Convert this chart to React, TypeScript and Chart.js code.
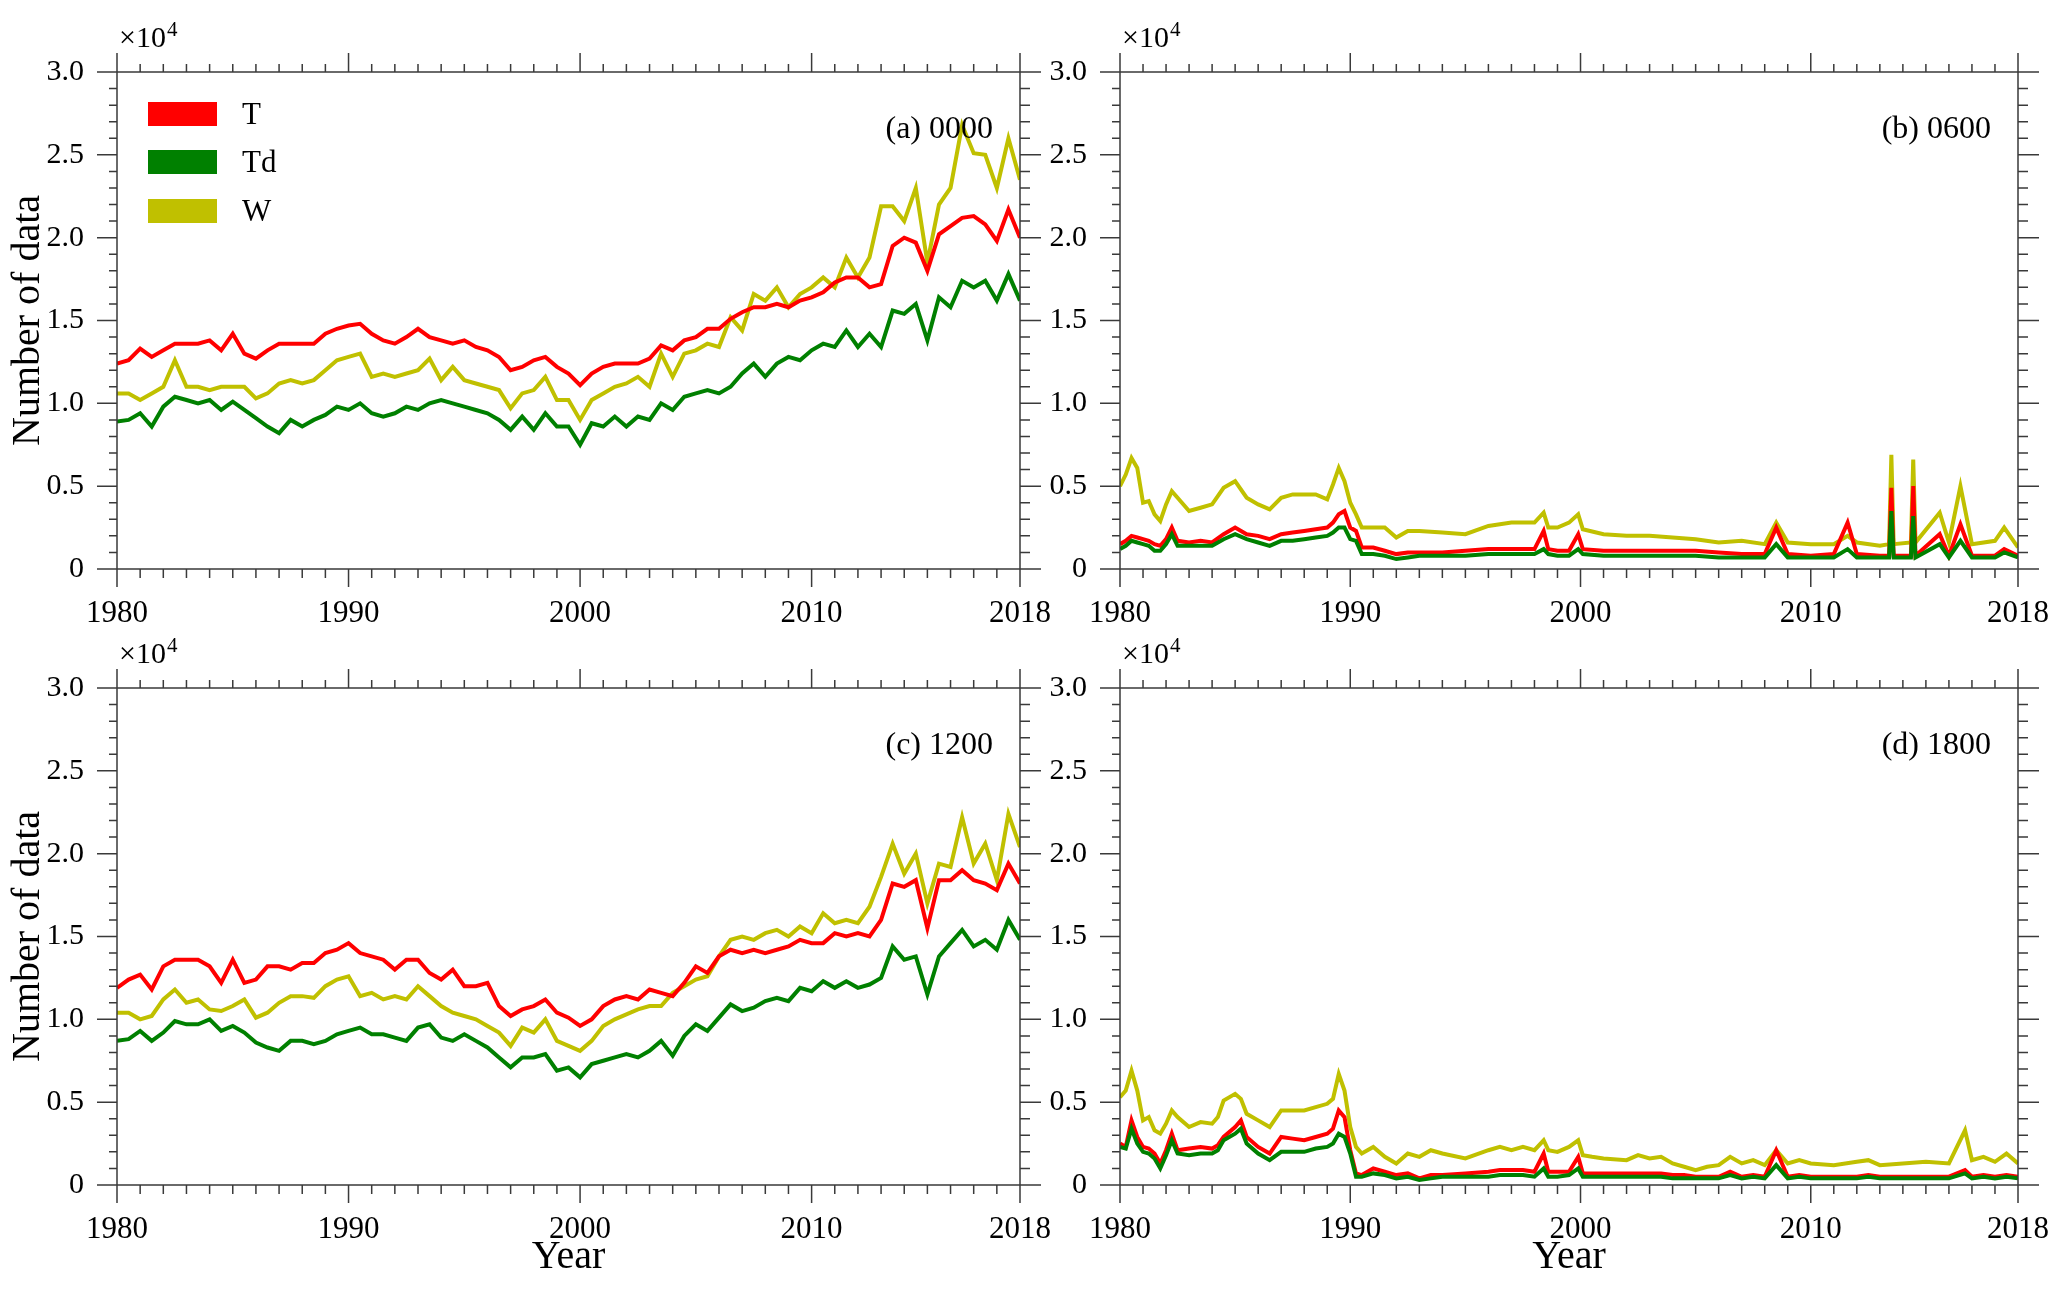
import { useEffect, useRef } from "react"
import { Chart, registerables } from "chart.js"

Chart.register(...registerables)

const FONT = "'Liberation Serif', 'Times New Roman', serif"
const AXIS_COLOR = "#3a3a3a"
const COLOR_T = "#ff0000"
const COLOR_TD = "#008000"
const COLOR_W = "#c0c000"

// x axis: the last tick sits at the end of 2018 and is labelled "2018"
const X_TICKS = [1980, 1990, 2000, 2010, 2019]
const X_TICK_LABELS = ["1980", "1990", "2000", "2010", "2018"]
const Y_TICKS = [0, 0.5, 1, 1.5, 2, 2.5, 3]
const Y_TICK_LABELS = ["0", "0.5", "1.0", "1.5", "2.0", "2.5", "3.0"]

// values are in units of 10^4
const HALF_YEARS = [
  1980, 1980.5, 1981, 1981.5, 1982, 1982.5, 1983, 1983.5, 1984, 1984.5,
  1985, 1985.5, 1986, 1986.5, 1987, 1987.5, 1988, 1988.5, 1989, 1989.5,
  1990, 1990.5, 1991, 1991.5, 1992, 1992.5, 1993, 1993.5, 1994, 1994.5,
  1995, 1995.5, 1996, 1996.5, 1997, 1997.5, 1998, 1998.5, 1999, 1999.5,
  2000, 2000.5, 2001, 2001.5, 2002, 2002.5, 2003, 2003.5, 2004, 2004.5,
  2005, 2005.5, 2006, 2006.5, 2007, 2007.5, 2008, 2008.5, 2009, 2009.5,
  2010, 2010.5, 2011, 2011.5, 2012, 2012.5, 2013, 2013.5, 2014, 2014.5,
  2015, 2015.5, 2016, 2016.5, 2017, 2017.5, 2018, 2018.5, 2019,
]

// (a) 0000
const A_T = [
  1.24, 1.26, 1.33, 1.28, 1.32, 1.36, 1.36, 1.36, 1.38, 1.32,
  1.42, 1.30, 1.27, 1.32, 1.36, 1.36, 1.36, 1.36, 1.42, 1.45,
  1.47, 1.48, 1.42, 1.38, 1.36, 1.40, 1.45, 1.40, 1.38, 1.36,
  1.38, 1.34, 1.32, 1.28, 1.20, 1.22, 1.26, 1.28, 1.22, 1.18,
  1.11, 1.18, 1.22, 1.24, 1.24, 1.24, 1.27, 1.35, 1.32, 1.38,
  1.40, 1.45, 1.45, 1.51, 1.55, 1.58, 1.58, 1.60, 1.58, 1.62,
  1.64, 1.67, 1.73, 1.76, 1.76, 1.70, 1.72, 1.95, 2.00, 1.97,
  1.80, 2.02, 2.07, 2.12, 2.13, 2.08, 1.98, 2.17, 2.00,
]
const A_TD = [
  0.89, 0.90, 0.94, 0.86, 0.98, 1.04, 1.02, 1.00, 1.02, 0.96,
  1.01, 0.96, 0.91, 0.86, 0.82, 0.90, 0.86, 0.90, 0.93, 0.98,
  0.96, 1.00, 0.94, 0.92, 0.94, 0.98, 0.96, 1.00, 1.02, 1.00,
  0.98, 0.96, 0.94, 0.90, 0.84, 0.92, 0.84, 0.94, 0.86, 0.86,
  0.75, 0.88, 0.86, 0.92, 0.86, 0.92, 0.90, 1.00, 0.96, 1.04,
  1.06, 1.08, 1.06, 1.10, 1.18, 1.24, 1.16, 1.24, 1.28, 1.26,
  1.32, 1.36, 1.34, 1.44, 1.34, 1.42, 1.34, 1.56, 1.54, 1.60,
  1.38, 1.64, 1.58, 1.74, 1.70, 1.74, 1.62, 1.78, 1.62,
]
const A_W = [
  1.06, 1.06, 1.02, 1.06, 1.10, 1.26, 1.10, 1.10, 1.08, 1.10,
  1.10, 1.10, 1.03, 1.06, 1.12, 1.14, 1.12, 1.14, 1.20, 1.26,
  1.28, 1.30, 1.16, 1.18, 1.16, 1.18, 1.20, 1.27, 1.14, 1.22,
  1.14, 1.12, 1.10, 1.08, 0.97, 1.06, 1.08, 1.16, 1.02, 1.02,
  0.90, 1.02, 1.06, 1.10, 1.12, 1.16, 1.10, 1.30, 1.16, 1.30,
  1.32, 1.36, 1.34, 1.52, 1.44, 1.66, 1.62, 1.70, 1.58, 1.66,
  1.70, 1.76, 1.70, 1.88, 1.76, 1.88, 2.19, 2.19, 2.10, 2.30,
  1.85, 2.20, 2.30, 2.68, 2.51, 2.50, 2.30, 2.60, 2.35,
]

// (c) 1200
const C_T = [
  1.19, 1.24, 1.27, 1.18, 1.32, 1.36, 1.36, 1.36, 1.32, 1.22,
  1.36, 1.22, 1.24, 1.32, 1.32, 1.30, 1.34, 1.34, 1.40, 1.42,
  1.46, 1.40, 1.38, 1.36, 1.30, 1.36, 1.36, 1.28, 1.24, 1.30,
  1.20, 1.20, 1.22, 1.08, 1.02, 1.06, 1.08, 1.12, 1.04, 1.01,
  0.96, 1.00, 1.08, 1.12, 1.14, 1.12, 1.18, 1.16, 1.14, 1.22,
  1.32, 1.28, 1.38, 1.42, 1.40, 1.42, 1.40, 1.42, 1.44, 1.48,
  1.46, 1.46, 1.52, 1.50, 1.52, 1.50, 1.60, 1.82, 1.80, 1.84,
  1.55, 1.84, 1.84, 1.90, 1.84, 1.82, 1.78, 1.94, 1.82,
]
const C_TD = [
  0.87, 0.88, 0.93, 0.87, 0.92, 0.99, 0.97, 0.97, 1.00, 0.93,
  0.96, 0.92, 0.86, 0.83, 0.81, 0.87, 0.87, 0.85, 0.87, 0.91,
  0.93, 0.95, 0.91, 0.91, 0.89, 0.87, 0.95, 0.97, 0.89, 0.87,
  0.91, 0.87, 0.83, 0.77, 0.71, 0.77, 0.77, 0.79, 0.69, 0.71,
  0.65, 0.73, 0.75, 0.77, 0.79, 0.77, 0.81, 0.87, 0.78, 0.90,
  0.97, 0.93, 1.01, 1.09, 1.05, 1.07, 1.11, 1.13, 1.11, 1.19,
  1.17, 1.23, 1.19, 1.23, 1.19, 1.21, 1.25, 1.44, 1.36, 1.38,
  1.15, 1.38, 1.46, 1.54, 1.44, 1.48, 1.42, 1.60, 1.48,
]
const C_W = [
  1.04, 1.04, 1.00, 1.02, 1.12, 1.18, 1.10, 1.12, 1.06, 1.05,
  1.08, 1.12, 1.01, 1.04, 1.10, 1.14, 1.14, 1.13, 1.20, 1.24,
  1.26, 1.14, 1.16, 1.12, 1.14, 1.12, 1.20, 1.14, 1.08, 1.04,
  1.02, 1.00, 0.96, 0.92, 0.84, 0.95, 0.92, 1.00, 0.87, 0.84,
  0.81, 0.87, 0.96, 1.00, 1.03, 1.06, 1.08, 1.08, 1.16, 1.20,
  1.24, 1.26, 1.38, 1.48, 1.50, 1.48, 1.52, 1.54, 1.50, 1.56,
  1.52, 1.64, 1.58, 1.60, 1.58, 1.68, 1.86, 2.06, 1.88, 2.00,
  1.70, 1.94, 1.92, 2.22, 1.94, 2.06, 1.84, 2.24, 2.04,
]

// (b) 0600
const B_YEARS = [
  1980, 1980.25, 1980.5, 1980.75, 1981, 1981.25, 1981.5, 1981.75, 1982, 1982.25,
  1982.5, 1983, 1983.5, 1984, 1984.5, 1985, 1985.5, 1986, 1986.5, 1987,
  1987.5, 1988, 1988.5, 1989, 1989.25, 1989.5, 1989.75, 1990, 1990.25, 1990.5,
  1991, 1991.5, 1992, 1992.5, 1993, 1994, 1995, 1996, 1997, 1998,
  1998.4, 1998.6, 1999, 1999.5, 1999.9, 2000.1, 2001, 2002, 2003, 2004,
  2005, 2006, 2007, 2008, 2008.5, 2009, 2010, 2011, 2011.6, 2012,
  2013, 2013.4, 2013.5, 2013.6, 2014.35, 2014.45, 2014.55, 2015.6, 2016, 2016.5,
  2017, 2018, 2018.4, 2019,
]
const B_T = [
  0.15, 0.17, 0.20, 0.19, 0.18, 0.17, 0.15, 0.14, 0.18, 0.25,
  0.17, 0.16, 0.17, 0.16, 0.21, 0.25, 0.21, 0.20, 0.18, 0.21,
  0.22, 0.23, 0.24, 0.25, 0.28, 0.33, 0.35, 0.25, 0.23, 0.13,
  0.13, 0.11, 0.09, 0.10, 0.10, 0.10, 0.11, 0.12, 0.12, 0.12,
  0.23, 0.12, 0.11, 0.11, 0.21, 0.12, 0.11, 0.11, 0.11, 0.11,
  0.11, 0.10, 0.09, 0.09, 0.25, 0.09, 0.08, 0.09, 0.28, 0.09,
  0.08, 0.08, 0.49, 0.08, 0.08, 0.50, 0.08, 0.21, 0.08, 0.27,
  0.08, 0.08, 0.12, 0.08,
]
const B_TD = [
  0.12, 0.14, 0.17, 0.16, 0.15, 0.14, 0.11, 0.11, 0.15, 0.21,
  0.14, 0.14, 0.14, 0.14, 0.18, 0.21, 0.18, 0.16, 0.14, 0.17,
  0.17, 0.18, 0.19, 0.20, 0.22, 0.25, 0.25, 0.18, 0.17, 0.09,
  0.09, 0.08, 0.06, 0.07, 0.08, 0.08, 0.08, 0.09, 0.09, 0.09,
  0.12, 0.09, 0.08, 0.08, 0.12, 0.09, 0.08, 0.08, 0.08, 0.08,
  0.08, 0.07, 0.07, 0.07, 0.15, 0.07, 0.07, 0.07, 0.12, 0.07,
  0.07, 0.07, 0.35, 0.07, 0.07, 0.32, 0.07, 0.15, 0.07, 0.17,
  0.07, 0.07, 0.10, 0.07,
]
const B_W = [
  0.50, 0.57, 0.67, 0.61, 0.40, 0.41, 0.33, 0.29, 0.39, 0.47,
  0.43, 0.35, 0.37, 0.39, 0.49, 0.53, 0.43, 0.39, 0.36, 0.43,
  0.45, 0.45, 0.45, 0.42, 0.51, 0.61, 0.53, 0.40, 0.33, 0.25,
  0.25, 0.25, 0.19, 0.23, 0.23, 0.22, 0.21, 0.26, 0.28, 0.28,
  0.34, 0.25, 0.25, 0.28, 0.33, 0.24, 0.21, 0.20, 0.20, 0.19,
  0.18, 0.16, 0.17, 0.15, 0.28, 0.16, 0.15, 0.15, 0.20, 0.16,
  0.14, 0.15, 0.69, 0.15, 0.16, 0.66, 0.16, 0.34, 0.16, 0.50,
  0.15, 0.17, 0.25, 0.13,
]

// (d) 1800
const D_YEARS = [
  1980, 1980.25, 1980.5, 1980.75, 1981, 1981.25, 1981.5, 1981.75, 1982, 1982.25,
  1982.5, 1983, 1983.5, 1984, 1984.25, 1984.5, 1985, 1985.25, 1985.5, 1986,
  1986.5, 1987, 1987.5, 1988, 1988.5, 1989, 1989.25, 1989.5, 1989.75, 1990,
  1990.25, 1990.5, 1991, 1991.5, 1992, 1992.5, 1993, 1993.5, 1994, 1995,
  1996, 1996.5, 1997, 1997.5, 1998, 1998.4, 1998.6, 1999, 1999.5, 1999.9,
  2000.1, 2000.5, 2001, 2002, 2002.5, 2003, 2003.5, 2004, 2004.5, 2005,
  2005.5, 2006, 2006.5, 2007, 2007.5, 2008, 2008.5, 2009, 2009.5, 2010,
  2011, 2012, 2012.5, 2013, 2014, 2015, 2016, 2016.7, 2017, 2017.5,
  2018, 2018.5, 2019,
]
const D_T = [
  0.25, 0.23, 0.39, 0.29, 0.23, 0.22, 0.19, 0.13, 0.21, 0.31,
  0.21, 0.22, 0.23, 0.22, 0.24, 0.29, 0.35, 0.39, 0.29, 0.23,
  0.19, 0.29, 0.28, 0.27, 0.29, 0.31, 0.34, 0.45, 0.41, 0.21,
  0.07, 0.06, 0.10, 0.08, 0.06, 0.07, 0.04, 0.06, 0.06, 0.07,
  0.08, 0.09, 0.09, 0.09, 0.08, 0.19, 0.08, 0.08, 0.08, 0.17,
  0.07, 0.07, 0.07, 0.07, 0.07, 0.07, 0.07, 0.06, 0.06, 0.05,
  0.05, 0.05, 0.08, 0.05, 0.06, 0.05, 0.21, 0.05, 0.06, 0.05,
  0.05, 0.05, 0.06, 0.05, 0.05, 0.05, 0.05, 0.09, 0.05, 0.06,
  0.05, 0.06, 0.05,
]
const D_TD = [
  0.23, 0.22, 0.34, 0.25, 0.20, 0.19, 0.16, 0.10, 0.18, 0.27,
  0.19, 0.18, 0.19, 0.19, 0.21, 0.27, 0.31, 0.34, 0.25, 0.19,
  0.15, 0.20, 0.20, 0.20, 0.22, 0.23, 0.25, 0.31, 0.29, 0.19,
  0.05, 0.05, 0.07, 0.06, 0.04, 0.05, 0.03, 0.04, 0.05, 0.05,
  0.05, 0.06, 0.06, 0.06, 0.05, 0.10, 0.05, 0.05, 0.06, 0.10,
  0.05, 0.05, 0.05, 0.05, 0.05, 0.05, 0.05, 0.04, 0.04, 0.04,
  0.04, 0.04, 0.06, 0.04, 0.05, 0.04, 0.12, 0.04, 0.05, 0.04,
  0.04, 0.04, 0.05, 0.04, 0.04, 0.04, 0.04, 0.07, 0.04, 0.05,
  0.04, 0.05, 0.04,
]
const D_W = [
  0.53, 0.57, 0.69, 0.57, 0.39, 0.41, 0.33, 0.31, 0.37, 0.45,
  0.41, 0.35, 0.38, 0.37, 0.41, 0.51, 0.55, 0.52, 0.43, 0.39,
  0.35, 0.45, 0.45, 0.45, 0.47, 0.49, 0.52, 0.67, 0.57, 0.35,
  0.23, 0.19, 0.23, 0.17, 0.13, 0.19, 0.17, 0.21, 0.19, 0.16,
  0.21, 0.23, 0.21, 0.23, 0.21, 0.27, 0.21, 0.20, 0.23, 0.27,
  0.18, 0.17, 0.16, 0.15, 0.18, 0.16, 0.17, 0.13, 0.11, 0.09,
  0.11, 0.12, 0.17, 0.13, 0.15, 0.12, 0.21, 0.13, 0.15, 0.13,
  0.12, 0.14, 0.15, 0.12, 0.13, 0.14, 0.13, 0.33, 0.15, 0.17,
  0.14, 0.19, 0.13,
]

interface PanelSpec {
  label: string
  years: number[]
  t: number[]
  td: number[]
  w: number[]
  left: number
  top: number
  width: number
  height: number
  yAxisWidth: number
  xAxisHeight: number
  padTop: number
  padRight: number
  yTitle: boolean
  xTitle: boolean
  legend: boolean
}

const PANELS: PanelSpec[] = [
  { label: "(a) 0000", years: HALF_YEARS, t: A_T, td: A_TD, w: A_W,
    left: 0, top: 0, width: 1070, height: 645, yAxisWidth: 117, xAxisHeight: 76,
    padTop: 72, padRight: 50, yTitle: true, xTitle: false, legend: true },
  { label: "(b) 0600", years: B_YEARS, t: B_T, td: B_TD, w: B_W,
    left: 1030, top: 0, width: 1037, height: 645, yAxisWidth: 90, xAxisHeight: 76,
    padTop: 72, padRight: 44, yTitle: false, xTitle: false, legend: false },
  { label: "(c) 1200", years: HALF_YEARS, t: C_T, td: C_TD, w: C_W,
    left: 0, top: 600, width: 1070, height: 689, yAxisWidth: 117, xAxisHeight: 104,
    padTop: 88, padRight: 50, yTitle: true, xTitle: true, legend: false },
  { label: "(d) 1800", years: D_YEARS, t: D_T, td: D_TD, w: D_W,
    left: 1030, top: 600, width: 1037, height: 689, yAxisWidth: 90, xAxisHeight: 104,
    padTop: 88, padRight: 44, yTitle: false, xTitle: true, legend: false },
]

// Frame, outward ticks, the ×10^4 note, panel label and legend
const decorPlugin = {
  id: "decor",
  afterDraw(chart: Chart, _args: unknown, opts: { label: string; legend: boolean }) {
    const { ctx, chartArea } = chart
    const { left, right, top, bottom } = chartArea
    const x = chart.scales.x
    const y = chart.scales.y

    ctx.save()
    ctx.strokeStyle = AXIS_COLOR
    ctx.lineWidth = 1.5
    ctx.beginPath()
    ctx.rect(left, top, right - left, bottom - top)
    for (let yr = 1981; yr < 2019; yr++) {
      if (yr % 10 === 0) continue
      const px = x.getPixelForValue(yr)
      ctx.moveTo(px, top)
      ctx.lineTo(px, top - 8)
      ctx.moveTo(px, bottom)
      ctx.lineTo(px, bottom + 9)
    }
    for (const v of X_TICKS) {
      const px = x.getPixelForValue(v)
      ctx.moveTo(px, top)
      ctx.lineTo(px, top - 19)
      ctx.moveTo(px, bottom)
      ctx.lineTo(px, bottom + 18)
    }
    for (let i = 1; i < 30; i++) {
      if (i % 5 === 0) continue
      const py = y.getPixelForValue(i / 10)
      ctx.moveTo(left, py)
      ctx.lineTo(left - 8, py)
      ctx.moveTo(right, py)
      ctx.lineTo(right + 10, py)
    }
    for (const v of Y_TICKS) {
      const py = y.getPixelForValue(v)
      ctx.moveTo(left, py)
      ctx.lineTo(left - 20, py)
      ctx.moveTo(right, py)
      ctx.lineTo(right + 21, py)
    }
    ctx.stroke()

    ctx.fillStyle = "#000"
    ctx.textAlign = "left"
    ctx.textBaseline = "alphabetic"
    ctx.font = `30px ${FONT}`
    ctx.fillText("×10", left + 2, top - 25)
    const w = ctx.measureText("×10").width
    ctx.font = `21px ${FONT}`
    ctx.fillText("4", left + 3 + w, top - 36)

    ctx.font = `32px ${FONT}`
    ctx.textAlign = "right"
    ctx.fillText(opts.label, right - 27, top + 66)

    if (opts.legend) {
      const rows = [42, 90, 139]
      chart.data.datasets.forEach((ds, i) => {
        const cy = top + rows[i]
        ctx.fillStyle = ds.borderColor as string
        ctx.fillRect(left + 31, cy - 12, 69, 24)
        ctx.fillStyle = "#000"
        ctx.textAlign = "left"
        ctx.textBaseline = "middle"
        ctx.font = `31px ${FONT}`
        ctx.fillText(ds.label ?? "", left + 125, cy + 2)
      })
    }
    ctx.restore()
  },
}

function Panel({ spec }: { spec: PanelSpec }) {
  const chartRef = useRef<HTMLCanvasElement>(null)
  const chartInstance = useRef<Chart | null>(null)

  useEffect(() => {
    if (!chartRef.current) return
    if (chartInstance.current) {
      chartInstance.current.destroy()
    }
    const ctx = chartRef.current.getContext("2d")
    if (!ctx) return

    const toPoints = (vals: number[]) => spec.years.map((yr, i) => ({ x: yr, y: vals[i] }))
    const line = { borderWidth: 4, pointRadius: 0, tension: 0, fill: false }

    chartInstance.current = new Chart(ctx, {
      type: "line",
      data: {
        datasets: [
          { label: "T", data: toPoints(spec.t), borderColor: COLOR_T, order: 1, ...line },
          { label: "Td", data: toPoints(spec.td), borderColor: COLOR_TD, order: 0, ...line },
          { label: "W", data: toPoints(spec.w), borderColor: COLOR_W, order: 2, ...line },
        ],
      },
      options: {
        responsive: false,
        animation: false,
        events: [],
        layout: { padding: { top: spec.padTop, right: spec.padRight, left: 0, bottom: 0 } },
        plugins: {
          legend: { display: false },
          tooltip: { enabled: false },
          // @ts-ignore custom plugin options
          decor: { label: spec.label, legend: spec.legend },
        },
        scales: {
          x: {
            type: "linear",
            min: 1980,
            max: 2019,
            grid: { display: false },
            border: { display: false },
            afterBuildTicks: (scale) => {
              scale.ticks = X_TICKS.map((value) => ({ value }))
            },
            afterFit: (scale) => {
              scale.height = spec.xAxisHeight
            },
            ticks: {
              autoSkip: false,
              maxRotation: 0,
              padding: 18,
              color: "#000",
              font: { family: FONT, size: 31 },
              callback: (_v, i) => X_TICK_LABELS[i],
            },
            title: {
              display: spec.xTitle,
              text: "Year",
              color: "#000",
              font: { family: FONT, size: 40 },
              padding: { top: 0, bottom: 8 },
            },
          },
          y: {
            type: "linear",
            min: 0,
            max: 3,
            grid: { display: false },
            border: { display: false },
            afterBuildTicks: (scale) => {
              scale.ticks = Y_TICKS.map((value) => ({ value }))
            },
            afterFit: (scale) => {
              scale.width = spec.yAxisWidth
            },
            ticks: {
              autoSkip: false,
              padding: 25,
              color: "#000",
              font: { family: FONT, size: 30 },
              callback: (_v, i) => Y_TICK_LABELS[i],
            },
            title: {
              display: spec.yTitle,
              text: "Number of data",
              color: "#000",
              font: { family: FONT, size: 40 },
              padding: { top: 4, bottom: 0 },
            },
          },
        },
      },
      plugins: [decorPlugin],
    })

    return () => {
      if (chartInstance.current) {
        chartInstance.current.destroy()
        chartInstance.current = null
      }
    }
  }, [spec])

  return (
    <canvas
      ref={chartRef}
      width={spec.width}
      height={spec.height}
      style={{ position: "absolute", left: spec.left, top: spec.top, width: spec.width, height: spec.height }}
      aria-label={`Number of data ${spec.label}`}
    />
  )
}

export default function App() {
  return (
    <div
      style={{
        position: "absolute",
        left: 0,
        top: 0,
        width: 2067,
        height: 1289,
        overflow: "hidden",
        background: "#fff",
      }}
    >
      {PANELS.map((spec) => (
        <Panel key={spec.label} spec={spec} />
      ))}
    </div>
  )
}
